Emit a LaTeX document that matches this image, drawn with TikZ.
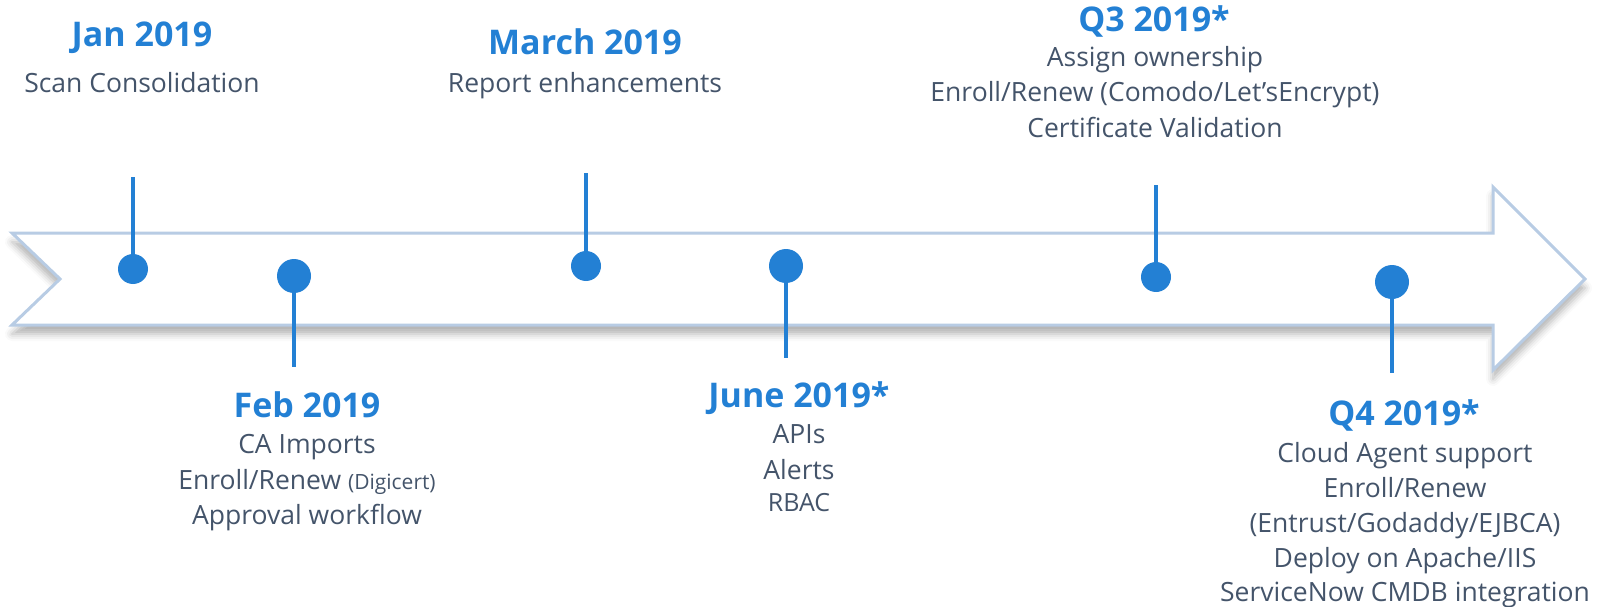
\documentclass[tikz,border=0pt]{standalone}
\usepackage{fontspec}
\setmainfont{Open Sans}
\usetikzlibrary{shadows.blur}
\definecolor{tblue}{RGB}{35,128,212}
\definecolor{tgray}{RGB}{68,84,106}
\definecolor{aline}{RGB}{184,204,228}
\tikzset{
  title/.style={anchor=base, inner sep=0pt, text=tblue, font=\fontsize{34}{40}\selectfont\bfseries},
  body/.style={anchor=base, inner sep=0pt, text=tgray, font=\fontsize{26.5}{35}\selectfont},
  dot/.style={circle, fill=tblue, inner sep=0pt},
  small/.style={minimum size=30pt},
  big/.style={minimum size=34pt},
  pin/.style={draw=tblue, line width=4.5pt},
  timeline/.style={draw=aline, line width=3pt, fill=white, line join=miter,
    blur shadow={shadow xshift=0pt, shadow yshift=-9pt, shadow blur radius=7pt, shadow opacity=30}}
}
\begin{document}
\begin{tikzpicture}[x=1pt,y=-1pt]
\useasboundingbox (0,0) rectangle (1607,607);
% arrow
\path[timeline] (12,233) -- (1493,233) -- (1493,187) -- (1585,279) -- (1493,370) -- (1493,325) -- (12,325) -- (60,279) -- cycle;
% pins
\coordinate (jant) at (133,177);
\coordinate (febt) at (294,367);
\coordinate (mart) at (586,173);
\coordinate (junt) at (786,358);
\coordinate (q3t) at (1156,185);
\coordinate (q4t) at (1392,373);
\node[dot, small] (jand) at (133,269) {};
\node[dot, big] (febd) at (294,276) {};
\node[dot, small] (mard) at (586,266) {};
\node[dot, big] (jund) at (786,266) {};
\node[dot, small] (q3d) at (1156,277) {};
\node[dot, big] (q4d) at (1392,282) {};
\draw[pin] (jand.center) -- (jant);
\draw[pin] (febd.center) -- (febt);
\draw[pin] (mard.center) -- (mart);
\draw[pin] (jund.center) -- (junt);
\draw[pin] (q3d.center) -- (q3t);
\draw[pin] (q4d.center) -- (q4t);
% Jan
\node[title] (jan) at (142,47) {Jan 2019};
\node[body] (jan1) at (142,93) {Scan Consolidation};
% March
\node[title] (mar) at (585,55) {March 2019};
\node[body] (mar1) at (585,93) {Report enhancements};
% Q3
\node[title] (q3) at (1154,32) {Q3 2019*};
\node[body] (q31) at (1155,67) {Assign ownership};
\node[body] (q32) at (1155,102) {Enroll/Renew (Comodo/Let’sEncrypt)};
\node[body] (q33) at (1155,138) {Certificate Validation};
% Feb
\node[title] (feb) at (307,417) {Feb 2019};
\node[body] (feb1) at (307,453) {CA Imports};
\node[body] (feb2) at (307,489) {Enroll/Renew {\fontsize{21}{25}\selectfont (Digicert)}};
\node[body] (feb3) at (307,524) {Approval workflow};
% June
\node[title] (jun) at (799,407) {June 2019*};
\node[body] (jun1) at (799,443) {APIs};
\node[body] (jun2) at (799,479) {Alerts};
\node[body, font=\fontsize{25}{30}\selectfont] (jun3) at (799,511) {RBAC};
% Q4
\node[title] (q4) at (1404,425) {Q4 2019*};
\node[body] (q41) at (1405,462) {Cloud Agent support};
\node[body] (q42) at (1405,497) {Enroll/Renew};
\node[body] (q43) at (1405,532) {(Entrust/Godaddy/EJBCA)};
\node[body] (q44) at (1405,567) {Deploy on Apache/IIS};
\node[body] (q45) at (1405,601) {ServiceNow CMDB integration};
\end{tikzpicture}
\end{document}
